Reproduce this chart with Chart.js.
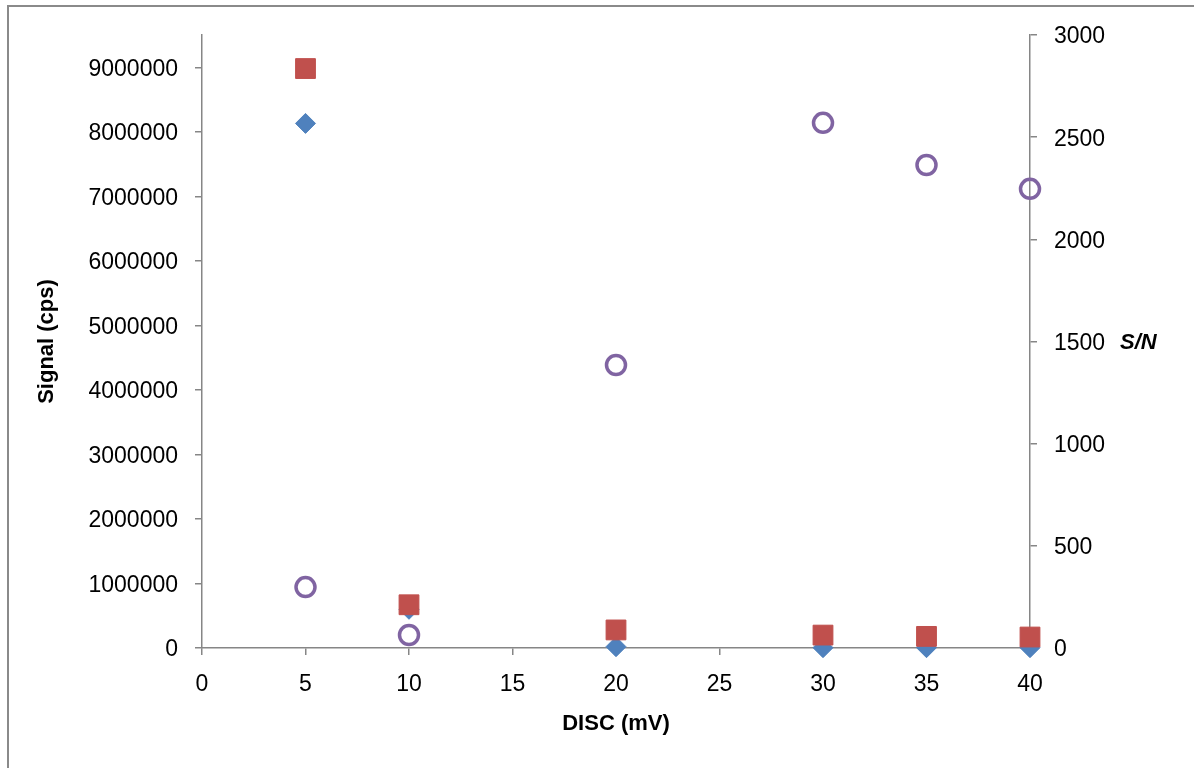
<!DOCTYPE html>
<html>
<head>
<meta charset="utf-8">
<script src="https://cdn.jsdelivr.net/npm/chart.js@4"></script>
<style>
  html, body { margin: 0; padding: 0; background: #fff; overflow: hidden; }
  #wrap { position: relative; width: 1194px; height: 768px; }
  #frame { position: absolute; left: 7px; top: 5px; width: 1300px; height: 900px;
           border-left: 2px solid #8a8a8a; border-top: 2px solid #8a8a8a; }
  canvas { position: absolute; left: 0; top: 0; }
</style>
</head>
<body>
<div id="wrap">
  <div id="frame"></div>
  <canvas id="chart" width="1194" height="768"></canvas>
</div>
<script>
// DISC threshold (mV)
const discValues = [5, 10, 20, 30, 35, 40];
// signal-ish series on the left axis (cps)
const blueSeries = [8130000, 600000, 20000, 5000, 5000, 5000];
const redSeries = [8980000, 670000, 280000, 200000, 180000, 170000];
// S/N on the right axis
const snSeries = [298, 64, 1385, 2570, 2364, 2247];

const xTicks = [0, 5, 10, 15, 20, 25, 30, 35, 40];
const leftTicks = [0, 1000000, 2000000, 3000000, 4000000, 5000000, 6000000, 7000000, 8000000, 9000000];
const rightTicks = [0, 500, 1000, 1500, 2000, 2500, 3000];

const axisColor = '#868686';
const font = { family: '"Liberation Sans", Arial, sans-serif', size: 23 };
const titleFont = { family: '"Liberation Sans", Arial, sans-serif', size: 22, weight: 'bold' };

function pts(xs, ys) {
    return xs.map((x, i) => ({ x: x, y: ys[i] }));
}

function fixTicks(list) {
    return scale => { scale.ticks = list.map(v => ({ value: v })); };
}

// S/N label sits horizontally beside the right axis
const snLabel = {
    id: 'snLabel',
    afterDraw(chart) {
        const ctx = chart.ctx;
        const y = chart.scales.y1.getPixelForValue(1500);
        ctx.save();
        ctx.font = 'italic bold 22px "Liberation Sans", Arial, sans-serif';
        ctx.fillStyle = '#000';
        ctx.textBaseline = 'middle';
        ctx.textAlign = 'left';
        ctx.fillText('S/N', 1120, y + 1);
        ctx.restore();
    }
};

const ctx = document.getElementById('chart').getContext('2d');
new Chart(ctx, {
    type: 'scatter',
    data: {
        datasets: [
            {
                label: 'Signal A',
                data: pts(discValues, blueSeries),
                yAxisID: 'y',
                pointStyle: 'rectRot',
                pointRadius: 10,
                backgroundColor: '#4F81BD',
                borderColor: '#4F81BD',
                borderWidth: 1,
                clip: false,
                order: 3
            },
            {
                label: 'Signal B',
                data: pts(discValues, redSeries),
                yAxisID: 'y',
                pointStyle: 'rect',
                pointRadius: 14,
                backgroundColor: '#C0504D',
                borderColor: '#C0504D',
                borderWidth: 1,
                clip: false,
                order: 2
            },
            {
                label: 'S/N',
                data: pts(discValues, snSeries),
                yAxisID: 'y1',
                pointStyle: 'circle',
                pointRadius: 9.5,
                backgroundColor: 'rgba(255,255,255,0)',
                borderColor: '#8064A2',
                borderWidth: 3.5,
                clip: false,
                order: 1
            }
        ]
    },
    options: {
        responsive: false,
        animation: false,
        layout: { padding: { top: 35, left: 0, right: 0, bottom: 0 } },
        plugins: {
            legend: { display: false },
            tooltip: { enabled: false }
        },
        scales: {
            x: {
                type: 'linear',
                position: 'bottom',
                min: 0,
                max: 40,
                afterBuildTicks: fixTicks(xTicks),
                afterFit: s => { s.height = 120; },
                grid: { display: true, drawOnChartArea: false, drawTicks: true, tickLength: 7, color: axisColor, lineWidth: 1.5 },
                border: { display: true, color: axisColor, width: 1.5 },
                ticks: { color: '#000', font: font, padding: 16, maxRotation: 0, callback: v => String(v) },
                title: { display: true, text: 'DISC (mV)', color: '#000', font: titleFont, padding: { top: 0, bottom: 31 } }
            },
            y: {
                type: 'linear',
                position: 'left',
                min: 0,
                max: 9500000,
                afterBuildTicks: fixTicks(leftTicks),
                afterFit: s => { s.width = 202; },
                grid: { display: true, drawOnChartArea: false, drawTicks: true, tickLength: 7, color: axisColor, lineWidth: 1.5 },
                border: { display: true, color: axisColor, width: 1.5 },
                ticks: { color: '#000', font: font, padding: 17, labelOffset: 2, callback: v => String(v) },
                title: { display: true, text: 'Signal (cps)', color: '#000', font: titleFont, padding: { top: 34, bottom: 0 } }
            },
            y1: {
                type: 'linear',
                position: 'right',
                min: 0,
                max: 3000,
                afterBuildTicks: fixTicks(rightTicks),
                afterFit: s => { s.width = 164; },
                grid: { display: true, drawOnChartArea: false, drawTicks: true, tickLength: 7, color: axisColor, lineWidth: 1.5 },
                border: { display: true, color: axisColor, width: 1.5 },
                ticks: { color: '#000', font: font, padding: 17, labelOffset: 2, callback: v => String(v) }
            }
        }
    },
    plugins: [snLabel]
});
</script>
</body>
</html>
